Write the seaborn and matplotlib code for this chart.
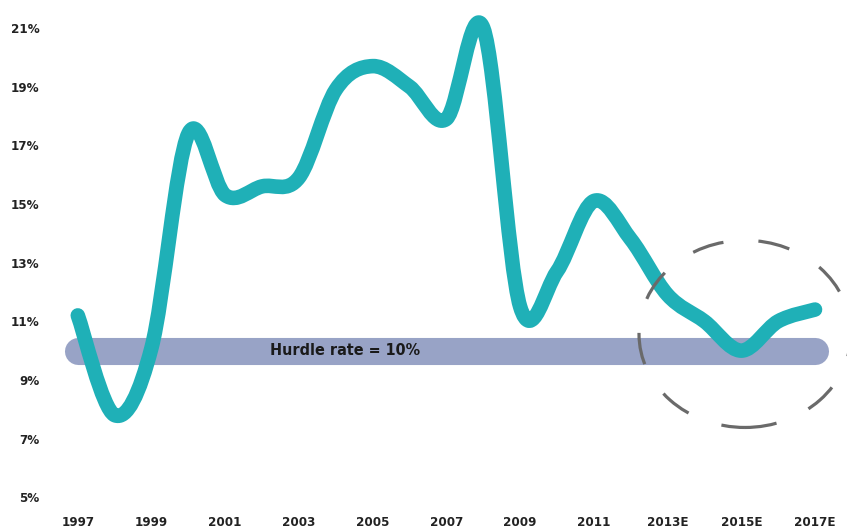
import numpy as np
import pandas as pd
import matplotlib
matplotlib.use("Agg")
import matplotlib.pyplot as plt
import seaborn as sns
from matplotlib.path import Path
from matplotlib.patches import PathPatch, Ellipse
from matplotlib import font_manager as fm

# ---- data ----
years = [1997, 1998, 1999, 2000, 2001, 2002, 2003, 2004, 2005, 2006, 2007,
         2008, 2009, 2010, 2011, 2012, 2013, 2014, 2015, 2016, 2017]
roe = [11.2, 7.8, 10.1, 17.4, 15.3, 15.6, 15.9, 18.9, 19.7, 19.0, 17.9,
       21.0, 11.5, 12.7, 15.1, 13.8, 11.9, 11.0, 10.0, 11.0, 11.4]
hurdle = 10.0
hurdle_label = "Hurdle rate = 10%"
x_ticks = [1997, 1999, 2001, 2003, 2005, 2007, 2009, 2011, 2013, 2015, 2017]
x_labels = ["1997", "1999", "2001", "2003", "2005", "2007", "2009", "2011",
            "2013E", "2015E", "2017E"]
y_ticks = [5, 7, 9, 11, 13, 15, 17, 19, 21]
y_labels = ["5%", "7%", "9%", "11%", "13%", "15%", "17%", "19%", "21%"]

sns.set_theme(style="white")
plt.rcParams["font.family"] = ["DejaVu Sans"]
plt.rcParams["font.stretch"] = "condensed"

fp_tick = fm.FontProperties(family="DejaVu Sans", stretch="condensed",
                            weight="bold", size=9.5)
fp_text = fm.FontProperties(family="DejaVu Sans", stretch="condensed",
                            weight="bold", size=11.5)

W, H = 847, 532
fig = plt.figure(figsize=(W / 100, H / 100), dpi=100)
ax = fig.add_axes([52 / W, (H - 509) / H, (844.5 - 52) / W, (509 - 10.4) / H])
ax.set_xlim(1996.3, 2017.8)
ax.set_ylim(4.6, 21.6)

teal = "#1FB0B7"
band = "#98A3C6"

# hurdle band
df_h = pd.DataFrame({"x": [years[0], years[-1]], "y": [hurdle, hurdle]})
sns.lineplot(data=df_h, x="x", y="y", ax=ax, color=band, linewidth=19.5,
             solid_capstyle="round", zorder=1)
ax.text(2004.25, hurdle, hurdle_label, ha="center", va="center",
        fontproperties=fp_text, color="#1a1a1a", zorder=2)

# smoothed line (Catmull-Rom as cubic Bezier, like Excel's smoothed line)
P = np.column_stack([years, roe]).astype(float)
verts = [tuple(P[0])]
codes = [Path.MOVETO]
n = len(P)
for i in range(n - 1):
    p0 = P[i - 1] if i > 0 else P[i]
    p1 = P[i]
    p2 = P[i + 1]
    p3 = P[i + 2] if i + 2 < n else P[i + 1]
    c1 = p1 + (p2 - p0) / 6.0
    c2 = p2 - (p3 - p1) / 6.0
    verts += [tuple(c1), tuple(c2), tuple(p2)]
    codes += [Path.CURVE4] * 3
patch = PathPatch(Path(verts, codes), facecolor="none", edgecolor=teal,
                  linewidth=10.5, capstyle="round", joinstyle="round", zorder=3)
ax.add_patch(patch)

# dashed ellipse
ell = Ellipse((2015.1, 10.57), 5.75, 6.38, fill=False, edgecolor="#6a6a6a",
              linewidth=2.3, linestyle=(0, (10, 11)), zorder=4, clip_on=False)
ax.add_patch(ell)

ax.set_xticks(x_ticks)
ax.set_xticklabels(x_labels)
ax.set_yticks(y_ticks)
ax.set_yticklabels(y_labels)
ax.tick_params(axis="both", length=0, colors="#222222")
ax.tick_params(axis="x", pad=5)
ax.tick_params(axis="y", pad=9)
for lab in ax.get_xticklabels() + ax.get_yticklabels():
    lab.set_fontproperties(fp_tick)
ax.set_xlabel("")
ax.set_ylabel("")
for s in ax.spines.values():
    s.set_visible(False)
ax.grid(False)

fig.savefig("out.png", dpi=100)
